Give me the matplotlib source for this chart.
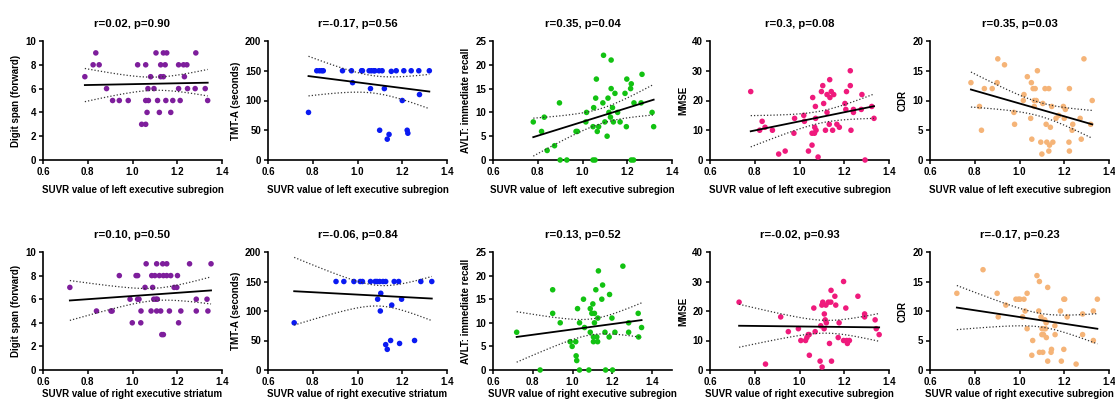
import numpy as np
import matplotlib
matplotlib.use("Agg")
import matplotlib.pyplot as plt

plt.rcParams['font.family'] = ['Liberation Sans', 'DejaVu Sans']
plt.rcParams['font.weight'] = 'bold'

# ---------------- data ----------------
# Row 1: left executive subregion
digit_left_x = [0.787, 0.836, 0.824, 0.851, 0.884, 0.911, 0.941, 0.981, 1.023, 1.059, 1.041, 1.059, 1.059, 1.071,
                1.065, 1.069, 1.081, 1.096, 1.105, 1.112, 1.120, 1.126, 1.126, 1.138, 1.138, 1.146, 1.153, 1.149,
                1.171, 1.180, 1.206, 1.206, 1.213, 1.228, 1.232, 1.243, 1.246, 1.283, 1.280, 1.325, 1.336]
digit_left_y = [7, 9, 8, 8, 6, 5, 5, 5, 8, 8, 3, 3, 5, 5,
                4, 6, 7, 6, 9, 5, 4, 8, 7, 9, 7, 8, 9, 5,
                4, 5, 8, 6, 5, 8, 7, 8, 6, 9, 6, 6, 5]

tmt_left_x = [0.781, 0.818, 0.830, 0.840, 0.847, 0.933, 0.973, 0.978, 1.018, 1.022, 1.052, 1.058, 1.062, 1.073,
              1.078, 1.096, 1.110, 1.099, 1.120, 1.133, 1.141, 1.151, 1.173, 1.200, 1.207, 1.222, 1.225, 1.240,
              1.274, 1.277, 1.321]
tmt_left_y = [80, 150, 150, 150, 150, 150, 150, 130, 150, 150, 150, 120, 150, 150,
              150, 150, 150, 50, 120, 35, 43, 149, 150, 100, 150, 50, 45, 150,
              150, 110, 150]

avlt_left_x = [0.780, 0.817, 0.829, 0.842, 0.875, 0.897, 0.900, 0.930, 0.971, 0.977, 1.015, 1.018, 1.047, 1.056,
               1.047, 1.050, 1.059, 1.062, 1.066, 1.072, 1.091, 1.094, 1.100, 1.110, 1.114, 1.118, 1.125, 1.128,
               1.128, 1.134, 1.138, 1.145, 1.157, 1.168, 1.190, 1.196, 1.198, 1.215, 1.218, 1.218, 1.228, 1.230,
               1.262, 1.266, 1.311, 1.318]
avlt_left_y = [8, 6, 9, 2, 3, 12, 0, 0, 6, 6, 8, 10, 0, 0,
               7, 11, 13, 17, 6, 7, 12, 22, 8, 5, 13, 10, 9, 21,
               15, 11, 8, 14, 10, 8, 14, 7, 17, 15, 16, 0, 0, 12,
               12, 18, 10, 7]

mmse_left_x = [0.782, 0.822, 0.833, 0.846, 0.879, 0.907, 0.936, 0.975, 0.978, 1.019, 1.022, 1.040, 1.056, 1.056,
               1.059, 1.067, 1.068, 1.071, 1.072, 1.074, 1.083, 1.098, 1.104, 1.108, 1.116, 1.123, 1.123, 1.135,
               1.136, 1.133, 1.142, 1.148, 1.153, 1.167, 1.178, 1.203, 1.207, 1.210, 1.227, 1.227, 1.230, 1.241,
               1.241, 1.276, 1.279, 1.293, 1.323, 1.333]
mmse_left_y = [23, 10, 13, 11, 10, 2, 3, 9, 14, 15, 13, 3, 5, 9,
               21, 9, 11, 18, 14, 10, 1, 23, 25, 19, 10, 16, 22, 27,
               21, 12, 23, 10, 22, 12, 11, 19, 17, 23, 30, 25, 10, 17,
               16, 17, 22, 0, 18, 14]

cdr_left_x = [0.783, 0.821, 0.830, 0.843, 0.878, 0.900, 0.903, 0.933, 0.975, 0.978, 1.017, 1.020, 1.035, 1.050,
              1.053, 1.055, 1.061, 1.066, 1.066, 1.070, 1.075, 1.080, 1.095, 1.100, 1.104, 1.114, 1.119, 1.122,
              1.131, 1.131, 1.134, 1.138, 1.144, 1.149, 1.163, 1.175, 1.196, 1.200, 1.205, 1.223, 1.221, 1.223,
              1.235, 1.238, 1.271, 1.276, 1.288, 1.318, 1.325]
cdr_left_y = [13, 9, 5, 12, 12, 13, 17, 16, 8, 6, 10, 11, 14, 7,
              13, 3.5, 12, 9, 10, 12, 10, 15, 3, 1, 9.5, 12, 6, 3,
              12, 1.5, 2.5, 5.5, 9, 3, 7, 7.5, 9, 7, 8.5, 12, 3, 1.5,
              5, 6, 7, 3.5, 17, 6, 10]

# Row 2: right executive striatum / subregion
digit_right_x = [0.720, 0.839, 0.904, 0.909, 0.941, 0.989, 0.999, 1.016, 1.023, 1.023, 1.029, 1.037, 1.038, 1.056,
                 1.061, 1.086, 1.090, 1.083, 1.095, 1.100, 1.108, 1.105, 1.111, 1.108, 1.120, 1.126, 1.131, 1.138,
                 1.135, 1.138, 1.153, 1.153, 1.165, 1.171, 1.186, 1.198, 1.201, 1.206, 1.216, 1.255, 1.285, 1.285,
                 1.333, 1.337, 1.351]
digit_right_y = [7, 5, 5, 5, 8, 6, 4, 8, 8, 6, 6, 4, 5, 7,
                 9, 8, 7, 5, 6, 8, 9, 6, 6, 5, 8, 5, 3, 3,
                 9, 8, 9, 8, 5, 8, 7, 7, 8, 4, 5, 9, 6, 5,
                 6, 5, 9]

tmt_right_x = [0.717, 0.904, 0.939, 0.984, 1.012, 1.022, 1.058, 1.079, 1.087, 1.090, 1.099, 1.102, 1.104, 1.114,
               1.126, 1.126, 1.133, 1.148, 1.153, 1.164, 1.184, 1.188, 1.197, 1.255, 1.283, 1.332]
tmt_right_y = [80, 150, 150, 150, 150, 150, 150, 150, 150, 120, 150, 100, 130, 150,
               150, 43, 35, 50, 110, 150, 150, 45, 120, 50, 150, 150]

avlt_right_x = [0.719, 0.837, 0.900, 0.900, 0.938, 0.988, 0.998, 1.016, 1.018, 1.021, 1.025, 1.035, 1.035, 1.055,
                1.060, 1.082, 1.089, 1.089, 1.097, 1.102, 1.105, 1.105, 1.110, 1.110, 1.117, 1.122, 1.126, 1.127,
                1.130, 1.147, 1.151, 1.163, 1.166, 1.184, 1.186, 1.198, 1.201, 1.213, 1.253, 1.282, 1.282, 1.330,
                1.332, 1.347]
avlt_right_y = [8, 0, 17, 12, 10, 6, 5, 6, 3, 2, 13, 10, 0, 15,
                9, 0, 13, 8, 12, 14, 7, 6, 12, 10, 17, 7, 6, 11,
                21, 15, 18, 8, 0, 7, 16, 11, 0, 8, 22, 10, 8, 12,
                7, 9]

mmse_right_x = [0.730, 0.848, 0.916, 0.950, 0.995, 1.006, 1.027, 1.033, 1.039, 1.044, 1.043, 1.064, 1.070, 1.092,
                1.095, 1.101, 1.100, 1.104, 1.110, 1.111, 1.115, 1.118, 1.120, 1.129, 1.134, 1.140, 1.141, 1.143,
                1.158, 1.162, 1.173, 1.177, 1.197, 1.197, 1.207, 1.211, 1.214, 1.223, 1.261, 1.291, 1.291, 1.338,
                1.343, 1.356]
mmse_right_y = [23, 2, 18, 13, 14, 10, 10, 11, 12, 5, 12, 21, 13, 3,
                15, 1, 22, 23, 14, 19, 17, 22, 16, 23, 9, 23, 27, 3,
                25, 22, 11, 16, 30, 10, 21, 10, 9, 10, 25, 19, 18, 17,
                14, 12]

cdr_right_x = [0.720, 0.837, 0.900, 0.905, 0.939, 0.984, 0.995, 1.002, 1.014, 1.020, 1.025, 1.034, 1.034, 1.059,
               1.055, 1.078, 1.086, 1.089, 1.089, 1.096, 1.101, 1.100, 1.104, 1.107, 1.110, 1.113, 1.116, 1.119,
               1.120, 1.126, 1.126, 1.141, 1.143, 1.158, 1.159, 1.183, 1.187, 1.198, 1.202, 1.198, 1.213, 1.253,
               1.282, 1.282, 1.330, 1.330, 1.348]
cdr_right_y = [13, 17, 13, 9, 11, 12, 12, 12, 9, 12, 10, 13, 7, 5,
               2.5, 16, 10, 15, 3, 9, 7, 6, 3, 6, 7, 8.5, 7, 8,
               5.5, 14, 1.5, 3, 3.5, 7.5, 6, 10, 1.5, 12, 12, 3.5, 9, 1,
               9.5, 6, 10, 5, 12]

# regression lines (intercept, slope)
fit_intercept = [6.01, 178.6, -6.61, -2.31, 20.3, 4.92, 148.0, 2.92, 15.64, 14.7]
fit_slope = [0.364, -48.1, 14.63, 15.3, -10.8, 1.35, -20.2, 5.68, -0.88, -5.72]

titles = ["r=0.02, p=0.90", "r=-0.17, p=0.56", "r=0.35, p=0.04", "r=0.3, p=0.08", "r=0.35, p=0.03",
          "r=0.10, p=0.50", "r=-0.06, p=0.84", "r=0.13, p=0.52", "r=-0.02, p=0.93", "r=-0.17, p=0.23"]
ylabels = ["Digit span (forward)", "TMT-A (seconds)", "AVLT: immediate recall", "MMSE", "CDR"]
xlabels = ["SUVR value of left executive subregion", "SUVR value of left executive subregion",
           "SUVR value of  left executive subregion", "SUVR value of left executive subregion",
           "SUVR value of left executive subregion",
           "SUVR value of right executive striatum", "SUVR value of right executive striatum",
           "SUVR value of right executive subregion", "SUVR value of right executive subregion",
           "SUVR value of right executive subregion"]
yticks = [[0, 2, 4, 6, 8, 10], [0, 50, 100, 150, 200], [0, 5, 10, 15, 20, 25], [0, 10, 20, 30, 40], [0, 5, 10, 15, 20]]
xticks = [0.6, 0.8, 1.0, 1.2, 1.4]
colors = ["#7E1E9C", "#0A1AF2", "#12C212", "#EF1A7C", "#F5B478"]

series = [(digit_left_x, digit_left_y), (tmt_left_x, tmt_left_y), (avlt_left_x, avlt_left_y),
          (mmse_left_x, mmse_left_y), (cdr_left_x, cdr_left_y),
          (digit_right_x, digit_right_y), (tmt_right_x, tmt_right_y), (avlt_right_x, avlt_right_y),
          (mmse_right_x, mmse_right_y), (cdr_right_x, cdr_right_y)]


def t975(df):
    z = 1.959964
    return (z + (z**3 + z) / (4 * df) + (5 * z**5 + 16 * z**3 + 3 * z) / (96 * df**2)
            + (3 * z**7 + 19 * z**5 + 17 * z**3 - 15 * z) / (384 * df**3))


W, H = 1115, 400
fig = plt.figure(figsize=(W / 100, H / 100), dpi=100)
lefts = [43, 268, 493, 710, 930]
width = 179
rows = [(41, 160), (252, 370)]

FS = 7
for i, (xs, ys) in enumerate(series):
    r, c = divmod(i, 5)
    top, bot = rows[r]
    ax = fig.add_axes([lefts[c] / W, 1 - bot / H, width / W, (bot - top) / H])
    x = np.array(xs, float)
    y = np.array(ys, float)
    n = len(x)
    a, b = fit_intercept[i], fit_slope[i]
    xg = np.linspace(x.min(), x.max(), 100)
    yh = a + b * xg
    resid = y - (a + b * x)
    s = np.sqrt(np.sum(resid**2) / (n - 2))
    sxx = np.sum((x - x.mean())**2)
    se = s * np.sqrt(1 / n + (xg - x.mean())**2 / sxx)
    tq = t975(n - 2)
    ax.scatter(x, y, s=16, color=colors[c], edgecolors='none', zorder=3, clip_on=False)
    ax.plot(xg, yh, color='black', lw=1.3, zorder=4)
    ax.plot(xg, yh + tq * se, color='#333333', lw=0.9, ls=(0, (1, 1.6)), zorder=4)
    ax.plot(xg, yh - tq * se, color='#333333', lw=0.9, ls=(0, (1, 1.6)), zorder=4)

    yt = yticks[c]
    ax.set_ylim(yt[0], yt[-1])
    ax.set_yticks(yt)
    ax.set_yticklabels([str(v) for v in yt])
    ax.set_xlim(0.6, 1.5 if i == 7 else 1.4)
    ax.set_xticks(xticks)
    ax.set_xticklabels([f"{v:.1f}" for v in xticks])
    for sp in ['top', 'right']:
        ax.spines[sp].set_visible(False)
    for sp in ['left', 'bottom']:
        ax.spines[sp].set_linewidth(1.2)
    ax.tick_params(direction='out', length=3, width=1.1, labelsize=FS, pad=2)
    for lab in ax.get_xticklabels() + ax.get_yticklabels():
        lab.set_fontweight('bold')
    ax.set_title(titles[i], fontsize=8.2, fontweight='bold', pad=10)
    ax.set_xlabel(xlabels[i], fontsize=FS, fontweight='bold', labelpad=6 if r == 0 else 1.5)
    ax.set_ylabel(ylabels[c], fontsize=FS, fontweight='bold', labelpad=3)

fig.savefig("out.png", dpi=100)
